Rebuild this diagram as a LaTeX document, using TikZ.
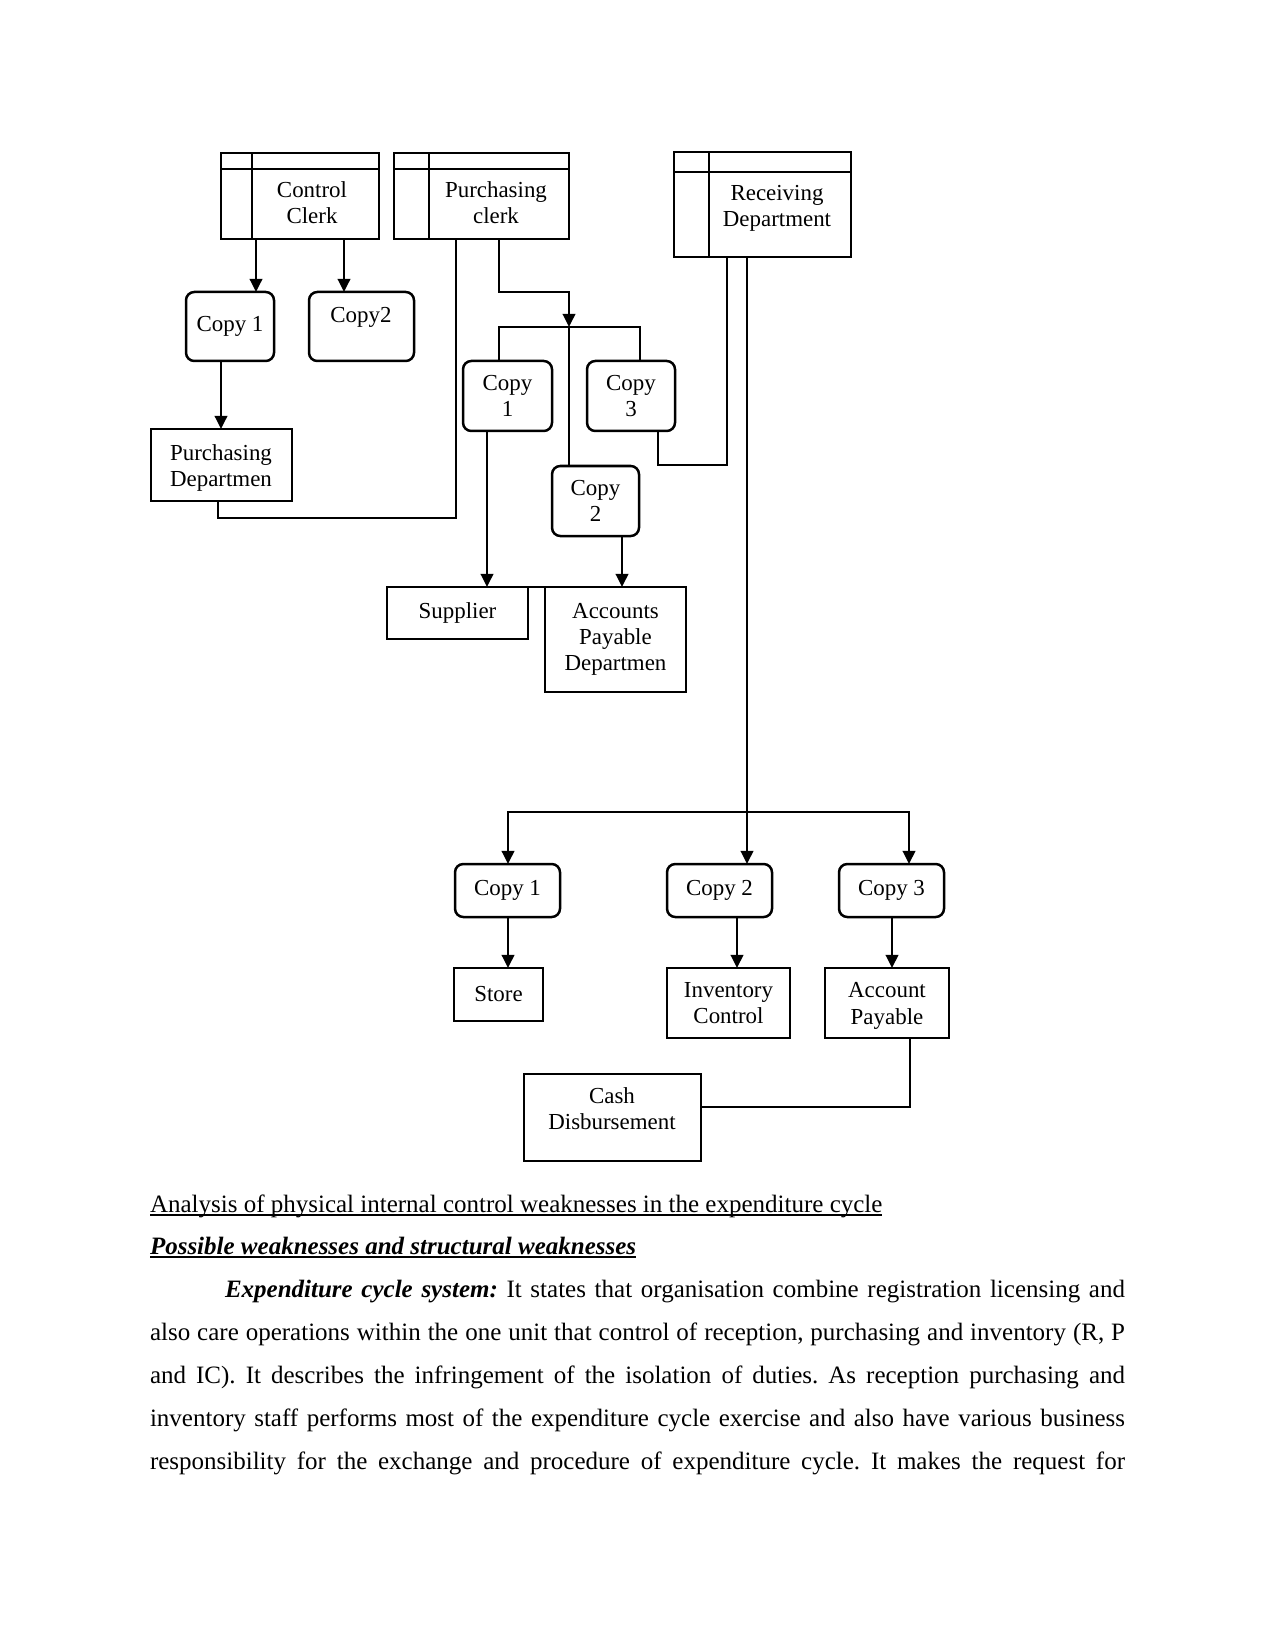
\documentclass[tikz,border=0pt]{standalone}
\usepackage{fontspec}
\setmainfont{Liberation Serif}
\usetikzlibrary{arrows.meta}
\frenchspacing
\newcommand\dfont{\fontsize{11}{12.6}\selectfont}
\newcommand\pfont{\fontsize{12}{14}\selectfont}
\newcommand\bx[7]{\node[#6, anchor=north west, minimum width={(#4-#2)*0.48pt}, minimum height={(#5-#3)*0.48pt}] (#1) at (#2,#3) {#7};}
\begin{document}
\begin{tikzpicture}[x=0.48pt, y=-0.48pt,
 box/.style={draw, line width=1.2pt, inner sep=0pt, outer sep=0pt, align=center, font=\dfont},
 rbox/.style={box, rounded corners=4pt},
 lbl/.style={inner sep=0pt, align=center, font=\dfont},
 ln/.style={line width=1.1pt},
 arr/.style={ln, -{Triangle[length=6.3pt,width=6pt]}},
 arrs/.style={ln, {Triangle[length=6.3pt,width=6pt]}-{Triangle[length=6.3pt,width=6pt]}},
 txt/.style={inner sep=0pt, outer sep=0pt, anchor=base west, font=\pfont},
 ul/.style={line width=0.7pt}]
\useasboundingbox (0,0) rectangle (1275,1650);

% header boxes
\bx{cc}{221}{153}{379}{239}{box}{}
\draw[ln] (221,169) -- (379,169); \draw[ln] (252,153) -- (252,239);
\node[lbl] (cct) at (312,203) {Control\\Clerk};

\bx{pc}{394}{153}{569}{239}{box}{}
\draw[ln] (394,169) -- (569,169); \draw[ln] (429,153) -- (429,239);
\node[lbl] (pct) at (496,203) {Purchasing\\clerk};

\bx{rd}{674}{152}{851}{257}{box}{}
\draw[ln] (674,172) -- (851,172); \draw[ln] (709,152) -- (709,257);
\node[lbl] (rdt) at (777,208) {Receiving\\Department};

% other boxes
\bx{ca1}{186}{292}{274}{361}{rbox}{Copy 1}
\bx{ca2}{309}{292}{414}{361}{rbox}{}
\node[lbl] (ca2t) at (361,317) {Copy2};
\bx{pd}{151}{429}{292}{501}{box}{}
\node[lbl] (pdt) at (221,468) {Purchasing\\Departmen};
\bx{pb1}{463}{361}{552}{431}{rbox}{Copy\\1}
\bx{pb3}{587}{361}{675}{431}{rbox}{Copy\\3}
\bx{pb2}{552}{466}{639}{536}{rbox}{Copy\\2}
\bx{sup}{387}{587}{528}{639}{box}{Supplier}
\bx{apd}{545}{587}{686}{692}{box}{Accounts\\Payable\\Departmen}
\bx{cb1}{455}{864}{560}{917}{rbox}{Copy 1}
\bx{cb2}{667}{864}{772}{917}{rbox}{Copy 2}
\bx{cb3}{839}{864}{944}{917}{rbox}{Copy 3}
\bx{st}{454}{968}{543}{1021}{box}{Store}
\bx{ic}{667}{968}{790}{1038}{box}{Inventory\\Control}
\bx{ap}{825}{968}{949}{1038}{box}{}
\node[lbl] (apt) at (887,1006) {Account\\Payable};
\bx{cd}{524}{1074}{701}{1161}{box}{}
\node[lbl] (cdt) at (612,1109) {Cash\\Disbursement};

% connectors
\coordinate (xa) at (256,0);
\coordinate (xb) at (344,0);
\coordinate (xc) at (221,0);
\draw[arr] (cc.south -| xa) -- (ca1.north -| xa);
\draw[arr] (cc.south -| xb) -- (ca2.north -| xb);
\draw[arr] (ca1.south -| xc) -- (pd.north -| xc);

\coordinate (k1) at (218,518);
\coordinate (k2) at (456,518);
\draw[ln] (pd.south -| k1) -- (k1) -- (k2) -- (pc.south -| k2);

\coordinate (m1) at (499,292);
\coordinate (m2) at (569,292);
\coordinate (m3) at (569,327);
\draw[arr] (pc.south -| m1) -- (m1) -- (m2) -- (m3);
\draw[ln] (m3) -- (pb2.north -| m3);
\coordinate (n1) at (499,327);
\coordinate (n2) at (640,327);
\draw[ln] (pb1.north -| n1) -- (n1) -- (n2) -- (pb3.north -| n2);

\coordinate (p1) at (658,465);
\coordinate (p2) at (727,465);
\draw[ln] (pb3.south -| p1) -- (p1) -- (p2) -- (rd.south -| p2);

\coordinate (q1) at (487,0);
\draw[arr] (pb1.south -| q1) -- (sup.north -| q1);
\coordinate (q2) at (622,0);
\draw[arr] (pb2.south -| q2) -- (apd.north -| q2);
\draw[ln] (sup.north east) -- (apd.north west);

\coordinate (r1) at (747,0);
\draw[arr] (rd.south -| r1) -- (cb2.north -| r1);
\coordinate (s1) at (508,812);
\coordinate (s2) at (909,812);
\draw[arrs] (cb1.north -| s1) -- (s1) -- (s2) -- (cb3.north -| s2);

\coordinate (u1) at (737,0);
\coordinate (u2) at (892,0);
\draw[arr] (cb1.south -| s1) -- (st.north -| s1);
\draw[arr] (cb2.south -| u1) -- (ic.north -| u1);
\draw[arr] (cb3.south -| u2) -- (ap.north -| u2);
\coordinate (v1) at (910,1107);
\draw[ln] (ap.south -| v1) -- (v1) -- (cd.east |- v1);

% text below
\node[txt] (t1) at (150,1212) {Analysis of physical internal control weaknesses in the expenditure cycle};
\draw[ul] ([yshift=-1.5pt]t1.base west) -- ([yshift=-1.5pt]t1.base east);
\node[txt] (t2) at (150,1254) {\textbf{\textit{Possible weaknesses and structural weaknesses}}};
\draw[ul] ([yshift=-1.5pt]t2.base west) -- ([yshift=-1.5pt]t2.base east);
\node[txt] (t3) at (150,1297) {\makebox[468pt][s]{\hspace*{36pt}\textbf{\textit{Expenditure cycle system:}} It states that organisation combine registration licensing and}};
\node[txt] (t4) at (150,1340) {\makebox[468pt][s]{also care operations within the one unit that control of reception, purchasing and inventory (R, P}};
\node[txt] (t5) at (150,1383) {\makebox[468pt][s]{and IC). It describes the infringement of the isolation of duties. As reception purchasing and}};
\node[txt] (t6) at (150,1426) {\makebox[468pt][s]{inventory staff performs most of the expenditure cycle exercise and also have various business}};
\node[txt] (t7) at (150,1469) {\makebox[468pt][s]{responsibility for the exchange and procedure of expenditure cycle. It makes the request for}};
\end{tikzpicture}
\end{document}
